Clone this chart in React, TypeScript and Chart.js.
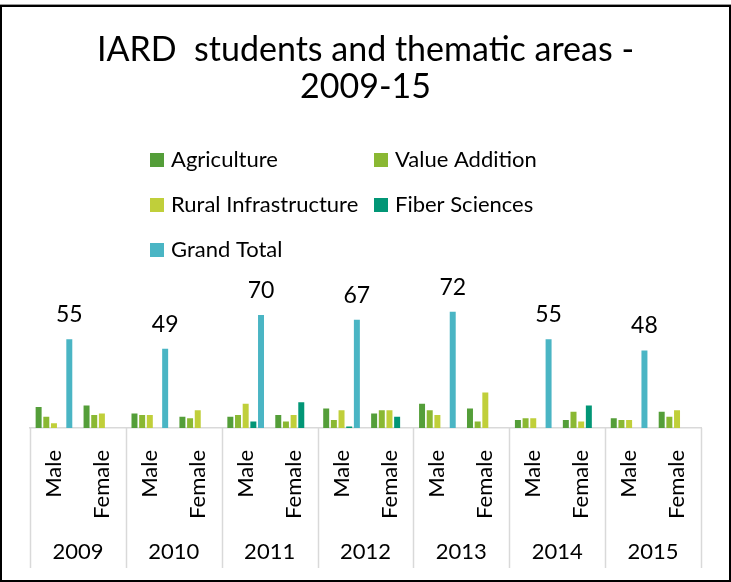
import React, { useEffect, useRef } from "react";
import { Chart, registerables } from "chart.js";

Chart.register(...registerables);

const years = ["2009", "2010", "2011", "2012", "2013", "2014", "2015"];
const genders = ["Male", "Female"];
const seriesNames = ["Agriculture", "Value Addition", "Rural Infrastructure", "Fiber Sciences", "Grand Total"];
const seriesColors = ["#549E39", "#8AB833", "#C0CF3A", "#029676", "#4AB5C4"];

// order: 2009 Male, 2009 Female, 2010 Male, 2010 Female, ...
const agriculture = [13, 14, 9, 7, 7, 8, 12, 9, 15, 12, 5, 5, 6, 10];
const valueAddition = [7, 8, 8, 6, 8, 4, 5, 11, 11, 4, 6, 10, 5, 7];
const ruralInfrastructure = [3, 9, 8, 11, 15, 8, 11, 11, 8, 22, 6, 4, 5, 11];
const fiberSciences = [0, 0, 0, 0, 4, 16, 1, 7, 0, 0, 0, 14, 0, 0];
const grandTotal = [55, null, 49, null, 70, null, 67, null, 72, null, 55, null, 48, null];

const FONT = "Lato, 'Open Sans', sans-serif";

const framePlugin = {
  id: "frame",
  beforeDraw(chart: any) {
    const ctx = chart.ctx;
    ctx.save();
    ctx.fillStyle = "#ffffff";
    ctx.fillRect(0, 0, chart.width, chart.height);
    ctx.restore();
  },
  afterDraw(chart: any) {
    const ctx = chart.ctx;
    ctx.save();
    ctx.fillStyle = "#9a9a9a";
    ctx.fillRect(0, 4, chart.width, 1);
    ctx.strokeStyle = "#000000";
    ctx.lineWidth = 2;
    ctx.strokeRect(1, 6, chart.width - 2, chart.height - 7);
    ctx.restore();
  },
};

const separatorPlugin = {
  id: "separators",
  afterDraw(chart: any) {
    const xs = chart.scales.x;
    const x2 = chart.scales.x2;
    const ctx = chart.ctx;
    const n = years.length;
    ctx.save();
    ctx.strokeStyle = "#d9d9d9";
    ctx.lineWidth = 1.5;
    for (let i = 0; i <= n; i++) {
      const x = Math.round(xs.left + (i * (xs.right - xs.left)) / n) + 0.5;
      ctx.beginPath();
      ctx.moveTo(x, chart.chartArea.bottom);
      ctx.lineTo(x, x2.bottom);
      ctx.stroke();
    }
    ctx.restore();
  },
};

const valueLabelPlugin = {
  id: "valueLabels",
  afterDatasetsDraw(chart: any) {
    const ctx = chart.ctx;
    const idx = seriesNames.indexOf("Grand Total");
    const meta = chart.getDatasetMeta(idx);
    const data = chart.data.datasets[idx].data;
    ctx.save();
    ctx.fillStyle = "#000000";
    ctx.font = `23px ${FONT}`;
    ctx.textAlign = "center";
    ctx.textBaseline = "bottom";
    meta.data.forEach((el: any, i: number) => {
      const v = data[i];
      if (v === null || v === undefined) return;
      ctx.fillText(String(v), el.x, el.y - 13);
    });
    ctx.restore();
  },
};

const legendPlugin = {
  id: "gridLegend",
  afterDraw(chart: any) {
    const ctx = chart.ctx;
    const colX = [150, 374];
    const rowY = [160, 205, 250];
    ctx.save();
    ctx.font = `22px ${FONT}`;
    ctx.textBaseline = "middle";
    ctx.textAlign = "left";
    chart.data.datasets.forEach((ds: any, i: number) => {
      const cx = colX[i % 2];
      const cy = rowY[Math.floor(i / 2)];
      ctx.fillStyle = ds.backgroundColor;
      ctx.fillRect(cx, cy - 7, 14, 14);
      ctx.fillStyle = "#000000";
      ctx.fillText(ds.label, cx + 21, cy);
    });
    ctx.restore();
  },
};

export default function App() {
  const ref = useRef<HTMLCanvasElement | null>(null);

  useEffect(() => {
    const canvas = ref.current;
    if (!canvas) return;
    const series = [agriculture, valueAddition, ruralInfrastructure, fiberSciences, grandTotal];
    const labels = years.flatMap(() => genders);
    const chart = new Chart(canvas, {
      type: "bar",
      data: {
        labels,
        datasets: series.map((d, i) => ({
          label: seriesNames[i],
          data: d,
          backgroundColor: seriesColors[i],
          borderWidth: 0,
          categoryPercentage: 0.8,
          barPercentage: 0.78,
        })),
      },
      options: {
        responsive: false,
        animation: false,
        layout: { padding: { left: 30, right: 30, top: 0, bottom: 14 } },
        plugins: {
          legend: { display: false },
          tooltip: { enabled: false },
          title: {
            display: true,
            text: ["IARD  students and thematic areas -", "2009-15"],
            color: "#000000",
            font: { family: FONT, size: 34, weight: "normal", lineHeight: 1.1 },
            padding: { top: 31, bottom: 193 },
          },
        },
        scales: {
          x: {
            type: "category",
            position: "bottom",
            grid: { display: false, drawTicks: false },
            border: { display: true, color: "#d9d9d9", width: 1.5 },
            ticks: {
              autoSkip: false,
              minRotation: 90,
              maxRotation: 90,
              padding: 22,
              color: "#000000",
              font: { family: FONT, size: 22 },
            },
            afterFit: (s: any) => {
              s.height = 108;
            },
          },
          x2: {
            type: "category",
            position: "bottom",
            labels: years,
            grid: { display: false, drawTicks: false },
            border: { display: false },
            ticks: {
              autoSkip: false,
              maxRotation: 0,
              padding: 3,
              color: "#000000",
              font: { family: FONT, size: 22 },
            },
            afterFit: (s: any) => {
              s.height = 32;
            },
          },
          y: {
            display: false,
            min: 0,
            max: 80,
          },
        },
      },
      plugins: [framePlugin, separatorPlugin, valueLabelPlugin, legendPlugin],
    });
    return () => chart.destroy();
  }, []);

  return (
    <div style={{ position: "absolute", left: 0, top: 0, width: 731, height: 582 }}>
      <canvas ref={ref} width={731} height={582} style={{ display: "block" }} />
    </div>
  );
}
